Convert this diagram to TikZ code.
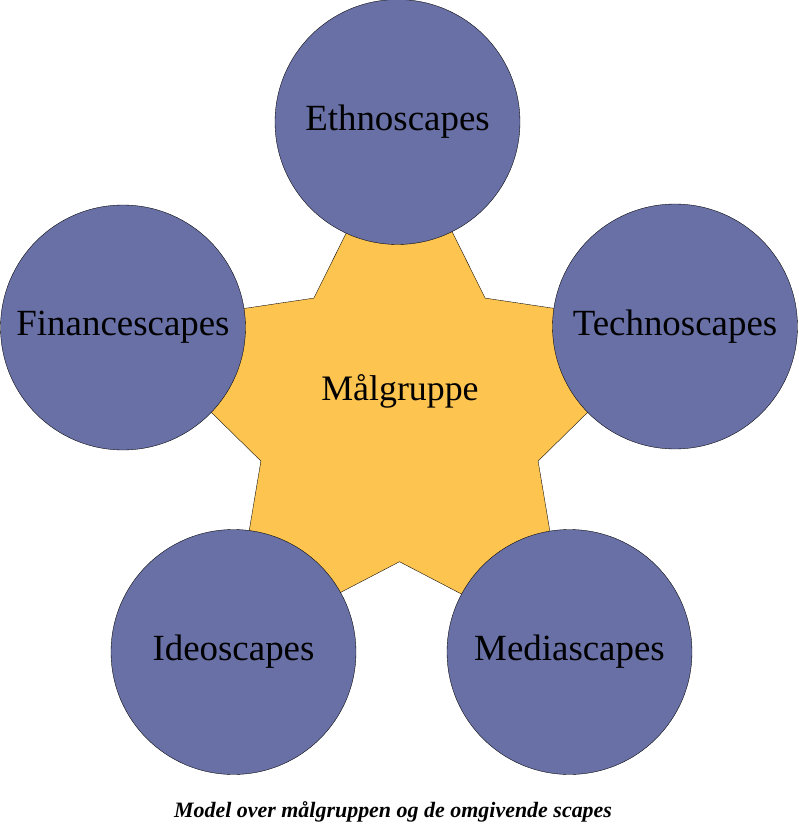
\documentclass[tikz,border=0pt]{standalone}
\usepackage{fontspec}
\setmainfont{Liberation Serif}
\usetikzlibrary{shapes.geometric}

\definecolor{scapeblue}{RGB}{104,112,166}
\definecolor{groupgold}{RGB}{253,196,80}

\tikzset{
    scapebox/.style={circle, draw=black, very thin, fill=scapeblue, minimum size=4.9cm,
        inner sep=0pt, font=\fontsize{21}{25}\selectfont},
    groupstar/.style={star, star points=5, star point ratio=1.99, draw=black, very thin,
        fill=groupgold, minimum size=11.6cm, inner sep=0pt}
}

\begin{document}
\begin{tikzpicture}[x=0.02cm, y=-0.02cm]
    \useasboundingbox (0, 0) rectangle (798, 831);

    \node [groupstar] (star) at (399.5, 416) {};
    \node [font=\fontsize{20.4}{24}\selectfont] (malgruppe) at (400, 391) {Målgruppe};

    \node [scapebox] (ethno) at (397.5, 122) {Ethnoscapes};
    \node [scapebox] (finance) at (123, 327.5) {Financescapes};
    \node [scapebox] (techno) at (675, 326.5) {Technoscapes};
    \node [scapebox] (ideo) at (233.5, 652) {Ideoscapes};
    \node [scapebox] (media) at (569.5, 652) {Mediascapes};

    \node [font=\fontsize{12.5}{15}\selectfont\bfseries\itshape] (caption) at (393, 812)
        {Model over målgruppen og de omgivende scapes};
\end{tikzpicture}
\end{document}
